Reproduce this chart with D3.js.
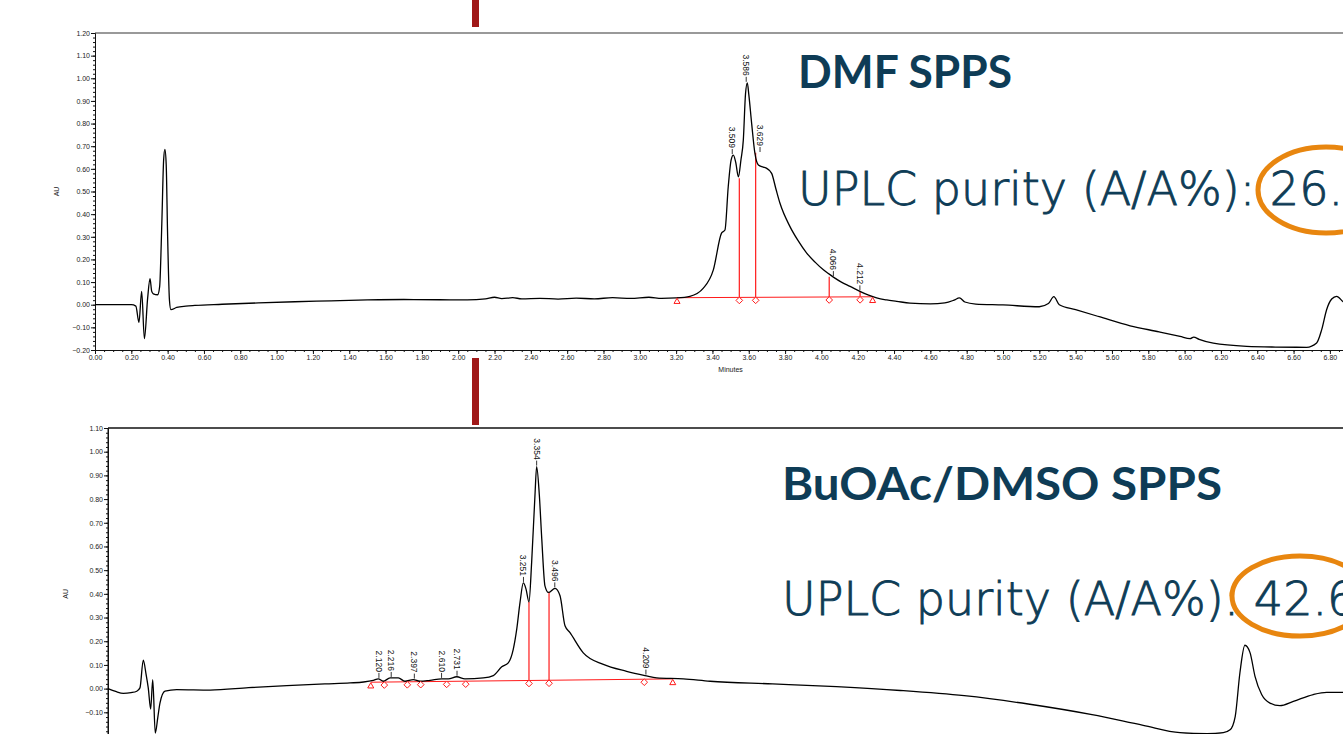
<!DOCTYPE html>
<html>
<head>
<meta charset="utf-8">
<script src="https://cdn.jsdelivr.net/npm/d3@7"></script>
<style>
  body { margin: 0; background: #fff; }
  svg { display: block; }
  .axis text { font-family: "Liberation Sans", Arial, sans-serif; font-size: 7px; fill: #222; }
  .axis path, .axis line { stroke: #111; stroke-width: 1; }
  .small { font-family: "Liberation Sans", Arial, sans-serif; font-size: 7px; fill: #222; }
  .plabel { font-family: "Liberation Sans", Arial, sans-serif; font-size: 8.5px; fill: #111; }
</style>
</head>
<body>
<div id="chart"></div>
<script>
// ---- data: [minutes, AU] ----
var dmfTrace = [
  [0.00,0.000],[0.20,0.000],[0.225,-0.006],[0.242,-0.078],[0.257,0.059],[0.272,-0.150],
  [0.290,0.030],[0.303,0.115],[0.312,0.060],[0.321,0.048],[0.345,0.044],[0.356,0.080],
  [0.368,0.360],[0.378,0.640],[0.385,0.686],[0.392,0.620],[0.400,0.300],[0.410,0.020],
  [0.418,-0.022],[0.45,-0.012],[0.50,-0.006],[0.55,-0.003],[0.70,0.002],[0.90,0.008],
  [1.10,0.013],[1.30,0.017],[1.50,0.021],[1.70,0.023],[1.90,0.022],[2.05,0.021],
  [2.15,0.026],[2.20,0.033],[2.24,0.027],[2.30,0.031],[2.35,0.026],[2.45,0.028],
  [2.55,0.025],[2.65,0.029],[2.75,0.026],[2.85,0.031],[2.95,0.028],[3.05,0.033],
  [3.12,0.028],[3.20,0.030],[3.276,0.037],[3.35,0.073],[3.405,0.154],[3.45,0.316],
  [3.469,0.330],[3.487,0.521],[3.503,0.640],[3.515,0.661],[3.528,0.630],[3.543,0.565],
  [3.557,0.640],[3.570,0.727],[3.582,0.930],[3.592,0.980],[3.600,0.930],[3.616,0.800],
  [3.634,0.668],[3.653,0.617],[3.680,0.608],[3.699,0.602],[3.726,0.580],[3.750,0.510],
  [3.772,0.448],[3.827,0.345],[3.870,0.285],[3.919,0.228],[3.965,0.188],[4.011,0.154],
  [4.066,0.122],[4.110,0.100],[4.158,0.081],[4.212,0.059],[4.260,0.042],[4.304,0.030],
  [4.360,0.021],[4.415,0.015],[4.488,0.007],[4.60,0.004],[4.68,0.008],[4.73,0.020],
  [4.76,0.030],[4.79,0.012],[4.85,0.003],[5.00,-0.001],[5.20,-0.009],[5.25,0.005],
  [5.28,0.036],[5.31,0.000],[5.40,-0.022],[5.53,-0.053],[5.70,-0.093],[5.86,-0.120],
  [5.975,-0.140],[6.03,-0.150],[6.05,-0.143],[6.08,-0.153],[6.158,-0.170],[6.342,-0.184],
  [6.50,-0.187],[6.672,-0.188],[6.727,-0.169],[6.755,-0.110],[6.782,-0.022],[6.81,0.025],
  [6.837,0.037],[6.87,0.015],[6.95,-0.050]
];
var dmfPeakTimes = [3.509, 3.586, 3.629, 4.066, 4.212];
var dmfPeakAU    = [0.661, 0.980, 0.670, 0.122, 0.059];
var dmfDropTimes = [3.548, 3.638, 4.043, 4.213];
var dmfDropAU    = [0.559, 0.671, 0.123, 0.059];
var dmfMarkTimes = [3.548, 3.638, 4.043, 4.213];
var dmfBaseTimes = [3.205, 4.282];
var dmfBaseAU    = [0.031, 0.035];

var buoacTrace = [
  [0.00,0.000],[0.06,-0.012],[0.12,-0.020],[0.18,-0.017],[0.225,-0.011],[0.25,0.003],
  [0.276,0.120],[0.298,0.060],[0.315,0.003],[0.334,-0.086],[0.350,0.038],[0.370,-0.188],
  [0.390,-0.120],[0.407,-0.060],[0.446,-0.011],[0.538,-0.004],[0.80,-0.006],[1.10,0.004],
  [1.40,0.013],[1.70,0.020],[1.894,0.024],[2.00,0.028],[2.076,0.035],[2.115,0.041],
  [2.154,0.031],[2.207,0.045],[2.272,0.045],[2.324,0.031],[2.389,0.038],[2.441,0.031],
  [2.52,0.035],[2.611,0.041],[2.663,0.041],[2.729,0.050],[2.793,0.041],[2.937,0.045],
  [3.015,0.055],[3.081,0.092],[3.132,0.109],[3.171,0.166],[3.198,0.250],[3.224,0.364],
  [3.250,0.446],[3.271,0.420],[3.294,0.366],[3.315,0.534],[3.341,0.817],[3.354,0.937],
  [3.375,0.817],[3.394,0.633],[3.419,0.434],[3.446,0.406],[3.498,0.423],[3.537,0.392],
  [3.576,0.265],[3.615,0.236],[3.719,0.151],[3.876,0.102],[4.058,0.073],[4.202,0.055],
  [4.293,0.045],[4.502,0.041],[4.711,0.031],[5.20,0.020],[5.70,0.008],[6.20,-0.008],
  [6.70,-0.030],[7.20,-0.065],[7.70,-0.110],[8.10,-0.155],[8.388,-0.186],[8.60,-0.190],
  [8.727,-0.186],[8.78,-0.174],[8.82,-0.118],[8.857,0.067],[8.896,0.183],[8.936,0.152],
  [8.975,0.052],[9.027,-0.025],[9.092,-0.061],[9.17,-0.072],[9.275,-0.054],[9.431,-0.025],
  [9.536,-0.016],[9.70,-0.016]
];
var buoacPeakTimes = [2.120, 2.216, 2.397, 2.610, 2.731, 3.251, 3.354, 3.496, 4.209];
var buoacPeakAU    = [0.041, 0.045, 0.038, 0.041, 0.050, 0.446, 0.937, 0.423, 0.055];
var buoacDropTimes = [3.294, 3.451];
var buoacDropAU    = [0.366, 0.408];
var buoacMarkTimes = [2.162, 2.342, 2.447, 2.650, 2.799, 3.294, 3.451, 4.196];
var buoacBaseTimes = [2.056, 4.419];
var buoacBaseAU    = [0.027, 0.041];

var panelTitles = ["DMF SPPS", "BuOAc/DMSO SPPS"];
var purityText  = ["UPLC purity (A/A%): 26.1", "UPLC purity (A/A%): 42.6"];

var W = 1343, H = 734;
var svg = d3.select("#chart").append("svg").attr("width", W).attr("height", H);
svg.append("rect").attr("width", W).attr("height", H).attr("fill", "#fff");

var fmt = d3.format(".2f");

function drawPanel(p) {
    var x = d3.scaleLinear().domain(p.xDomain).range(p.xRange);
    var y = d3.scaleLinear().domain(p.yDomain).range(p.yRange);
    var g = svg.append("g");

    // frame top line
    g.append("line")
        .attr("x1", p.xRange[0]).attr("x2", W)
        .attr("y1", p.yRange[1]).attr("y2", p.yRange[1])
        .attr("stroke", p.frameColor).attr("stroke-width", 1.5);

    // y axis (major + minor), only the part that fits on the page
    var yMajor = d3.range(Math.round(p.yDomain[0]*10), Math.round(p.yDomain[1]*10) + 1)
        .map(function(d){ return d/10; }).filter(function(v){ return y(v) < H - 3; });
    var yMinor = d3.range(Math.round(p.yDomain[0]*50), Math.round(p.yDomain[1]*50) + 1)
        .map(function(d){ return d/50; });
    g.append("g").attr("class", "axis")
        .attr("transform", "translate(" + p.xRange[0] + ",0)")
        .call(d3.axisLeft(y).tickValues(yMinor).tickSize(2).tickFormat(""))
        .select(".domain").remove();
    g.append("g").attr("class", "axis")
        .attr("transform", "translate(" + p.xRange[0] + ",0)")
        .call(d3.axisLeft(y).tickValues(yMajor).tickSize(4).tickPadding(1).tickFormat(fmt));

    // x axis (major + minor)
    if (p.yRange[0] < H) {
        var xMajor = d3.range(0, Math.round(p.xDomain[1]*5) + 1)
            .map(function(d){ return d/5; }).filter(function(t){ return x(t) + 9 < W; });
        var xMinor = d3.range(0, Math.round(p.xDomain[1]*20) + 1).map(function(d){ return d/20; });
        g.append("g").attr("class", "axis")
            .attr("transform", "translate(0," + p.yRange[0] + ")")
            .call(d3.axisBottom(x).tickValues(xMinor).tickSize(2).tickFormat(""))
            .select(".domain").remove();
        g.append("g").attr("class", "axis")
            .attr("transform", "translate(0," + p.yRange[0] + ")")
            .call(d3.axisBottom(x).tickValues(xMajor).tickSize(4).tickPadding(1).tickFormat(fmt));
        g.append("text").attr("class", "small")
            .attr("x", x((p.xDomain[0] + p.xDomain[1]) / 2)).attr("y", p.yRange[0] + 22)
            .attr("text-anchor", "middle").text("Minutes");
    } else {
        g.append("line")
            .attr("x1", p.xRange[0]).attr("x2", p.xRange[0])
            .attr("y1", p.yRange[1]).attr("y2", H)
            .attr("stroke", "#111");
    }
    g.append("text").attr("class", "small")
        .attr("transform", "translate(" + p.auX + "," + y(p.auAt) + ") rotate(-90)")
        .attr("text-anchor", "middle").text("AU");

    // integration baseline
    var bx = d3.scaleLinear().domain(p.baseT).range(p.baseAU);
    g.append("line")
        .attr("x1", x(p.baseT[0])).attr("y1", y(p.baseAU[0]))
        .attr("x2", x(p.baseT[1])).attr("y2", y(p.baseAU[1]))
        .attr("stroke", "#ff1a1a").attr("stroke-width", 1);

    // drop lines
    g.selectAll(".drop").data(p.dropT).enter().append("line")
        .attr("x1", function(d){ return x(d); }).attr("x2", function(d){ return x(d); })
        .attr("y1", function(d){ return y(bx(d)); })
        .attr("y2", function(d, i){ return y(p.dropAU[i]); })
        .attr("stroke", "#ff1a1a").attr("stroke-width", 1.2);

    // chromatogram trace
    var line = d3.line()
        .x(function(d){ return x(d[0]); })
        .y(function(d){ return y(d[1]); })
        .curve(d3.curveMonotoneX);
    g.append("path").datum(p.trace)
        .attr("d", line).attr("fill", "none")
        .attr("stroke", "#000").attr("stroke-width", 1.3);

    // diamond + triangle markers
    var diamond = d3.symbol().type(d3.symbolDiamond2).size(28);
    g.selectAll(".dia").data(p.markT).enter().append("path")
        .attr("d", diamond)
        .attr("transform", function(d){ return "translate(" + x(d) + "," + (y(bx(d)) + 3) + ")"; })
        .attr("fill", "#fff").attr("stroke", "#ff1a1a").attr("stroke-width", 1);
    var tri = d3.symbol().type(d3.symbolTriangle2).size(26);
    g.selectAll(".tri").data(p.baseT).enter().append("path")
        .attr("d", tri)
        .attr("transform", function(d, i){ return "translate(" + x(d) + "," + (y(p.baseAU[i]) + 4) + ")"; })
        .attr("fill", "#fff").attr("stroke", "#ff1a1a").attr("stroke-width", 1);

    // peak labels (rotated, reading downwards)
    var pk = g.selectAll(".pk").data(p.peakT).enter().append("g")
        .attr("transform", function(d, i){
            var dx = p.labelShift[i] || 0;
            return "translate(" + (x(d) + dx) + "," + y(p.peakAU[i]) + ")";
        });
    pk.append("line").attr("x1", 0).attr("x2", 0).attr("y1", -1).attr("y2", -6)
        .attr("stroke", "#000").attr("stroke-width", 0.8);
    pk.append("text").attr("class", "plabel")
        .attr("transform", "translate(0,-7) rotate(90)")
        .attr("text-anchor", "end").attr("dy", "0.35em")
        .text(function(d){ return d.toFixed(3); });

    // annotation text
    g.append("text")
        .attr("x", p.titleX).attr("y", p.titleY)
        .attr("font-family", "Lato, 'Open Sans', sans-serif").attr("font-weight", 700)
        .attr("font-size", 46).attr("fill", "#0e3c56")
        .attr("textLength", p.titleLen).attr("lengthAdjust", "spacingAndGlyphs")
        .text(p.title);
    g.append("text")
        .attr("x", p.titleX).attr("y", p.purityY)
        .attr("font-family", "'DejaVu Sans', sans-serif").attr("font-weight", 200)
        .attr("font-size", 46).attr("fill", "#0e3c56")
        .attr("stroke", "#0e3c56").attr("stroke-width", 0.9)
        .text(p.purity);
    g.append("ellipse")
        .attr("cx", p.ell[0]).attr("cy", p.ell[1]).attr("rx", p.ell[2]).attr("ry", p.ell[3])
        .attr("fill", "none").attr("stroke", "#e8860f").attr("stroke-width", 5);
}

drawPanel({
    trace: dmfTrace, xDomain: [0, 7.0], xRange: [95, 95 + 7.0 * 181.6],
    yDomain: [-0.2, 1.2], yRange: [350, 33], frameColor: "#777",
    auX: 59, auAt: 0.5,
    peakT: dmfPeakTimes, peakAU: dmfPeakAU, dropT: dmfDropTimes, dropAU: dmfDropAU,
    markT: dmfMarkTimes, baseT: dmfBaseTimes, baseAU: dmfBaseAU, labelShift: {2: 6},
    title: panelTitles[0], titleX: 798, titleY: 88, titleLen: 214,
    purity: purityText[0], purityY: 205, ell: [1326, 190, 68, 43]
});
drawPanel({
    trace: buoacTrace, xDomain: [0, 10.0], xRange: [108, 108 + 10.0 * 127.8],
    yDomain: [-0.2, 1.1], yRange: [736, 428], frameColor: "#111",
    auX: 68, auAt: 0.4,
    peakT: buoacPeakTimes, peakAU: buoacPeakAU, dropT: buoacDropTimes, dropAU: buoacDropAU,
    markT: buoacMarkTimes, baseT: buoacBaseTimes, baseAU: buoacBaseAU, labelShift: {},
    title: panelTitles[1], titleX: 782, titleY: 500, titleLen: 440,
    purity: purityText[1], purityY: 615, ell: [1300, 596, 68, 40]
});

// dark red slide markers
svg.append("rect").attr("x", 472).attr("y", 0).attr("width", 7).attr("height", 27).attr("fill", "#a01818");
svg.append("rect").attr("x", 472).attr("y", 358).attr("width", 7).attr("height", 67).attr("fill", "#a01818");
</script>
</body>
</html>
